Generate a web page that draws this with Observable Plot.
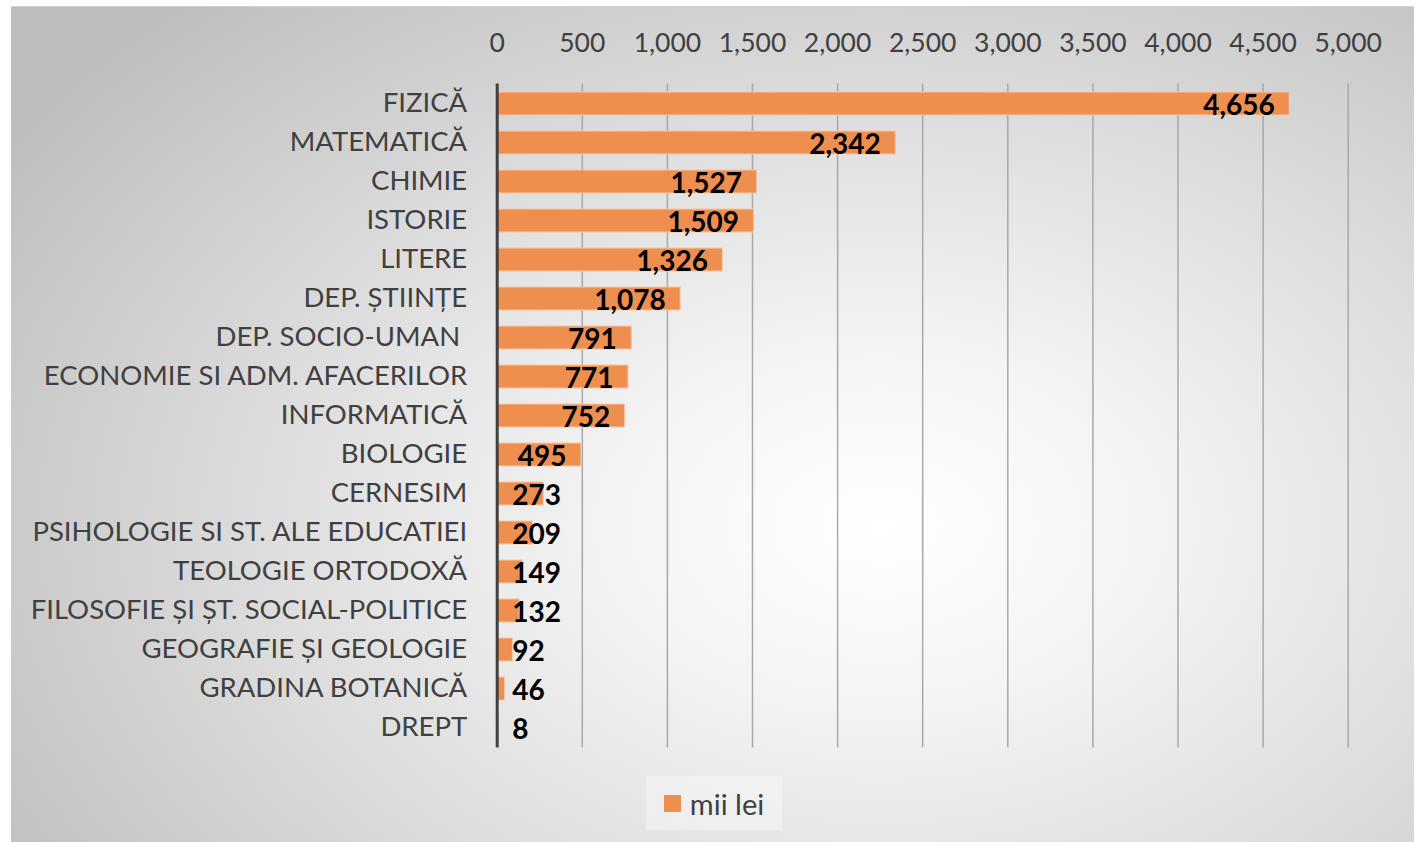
<!DOCTYPE html>
<html>
<head>
<meta charset="utf-8">
<script src="https://cdn.jsdelivr.net/npm/d3@7"></script>
<script src="https://cdn.jsdelivr.net/npm/@observablehq/plot@0.6"></script>
<style>
  html, body { margin: 0; padding: 0; background: #ffffff; }
  #frame {
    position: absolute; left: 11px; top: 6px; width: 1403px; height: 836px;
    border-top: 1px solid #d0d0d0;
    background: radial-gradient(ellipse 75% 85% at 62% 62%, #ffffff 0%, #f4f4f4 25%, #dcdcdc 60%, #bdbdbd 100%);
    overflow: hidden;
    font-family: Lato, "Open Sans", sans-serif;
  }
  #frame svg { background: transparent; overflow: visible; }
  #frame svg text { white-space: pre; }
  #legend {
    position: absolute; left: 635px; top: 769px; width: 136px; height: 54px;
    background: rgba(245,245,245,0.55);
    display: flex; align-items: center; justify-content: center;
    font-size: 29px; color: #404040;
  }
  #legend .sw { width: 17px; height: 17px; background: #ee8f4f; margin-right: 9px; }
</style>
</head>
<body>
<div id="frame"><div id="chart"></div><div id="legend"><span class="sw"></span><span>mii lei</span></div></div>
<script>
const categories = [
  "FIZICĂ", "MATEMATICĂ", "CHIMIE", "ISTORIE", "LITERE", "DEP. ȘTIINȚE",
  "DEP. SOCIO-UMAN ", "ECONOMIE SI ADM. AFACERILOR", "INFORMATICĂ", "BIOLOGIE",
  "CERNESIM", "PSIHOLOGIE SI ST. ALE EDUCATIEI", "TEOLOGIE ORTODOXĂ",
  "FILOSOFIE ȘI ȘT. SOCIAL-POLITICE", "GEOGRAFIE ȘI GEOLOGIE", "GRADINA BOTANICĂ", "DREPT"
];
const values = [4656, 2342, 1527, 1509, 1326, 1078, 791, 771, 752, 495, 273, 209, 149, 132, 92, 46, 8];
const xTicks = [0, 500, 1000, 1500, 2000, 2500, 3000, 3500, 4000, 4500, 5000];

const data = categories.map((c, i) => ({category: c, value: values[i]}));
const fmt = d3.format(",");
const barColor = "#ee8f4f";

const chart = Plot.plot({
  width: 1403,
  height: 760,
  marginLeft: 485.7,
  marginRight: 66.3,
  marginTop: 76.5,
  marginBottom: 19.5,
  style: {fontFamily: "Lato, 'Open Sans', sans-serif", background: "transparent"},
  x: {domain: [0, 5000], axis: null},
  y: {domain: categories, axis: null, paddingInner: 0.41, paddingOuter: 0.205},
  marks: [
    Plot.ruleX(xTicks.filter(t => t > 0), {stroke: "#a8a8a8", strokeWidth: 1.5}),
    Plot.axisX(xTicks, {anchor: "top", tickSize: 0, tickPadding: 32, tickFormat: fmt,
      label: null, fontSize: 26.5, fill: "#404040"}),
    Plot.barX(data, {y: "category", x: "value", fill: barColor, stroke: "#f7c7a4", strokeWidth: 1}),
    Plot.ruleX([0], {stroke: "#404040", strokeWidth: 3}),
    Plot.text(data, {x: 0, y: "category", text: "category", textAnchor: "end", dx: -30, dy: -1,
      fontSize: 27.5, fill: "#404040"}),
    Plot.text(data.filter(d => d.value >= 455), {x: "value", y: "category", text: d => fmt(d.value),
      textAnchor: "end", dx: -15, dy: 2, fontSize: 28, fontWeight: "bold", fill: "#000"}),
    Plot.text(data.filter(d => d.value < 455), {x: 0, y: "category", text: d => fmt(d.value),
      textAnchor: "start", dx: 15, dy: 2, fontSize: 28, fontWeight: "bold", fill: "#000"})
  ]
});
document.getElementById("chart").appendChild(chart);
</script>
</body>
</html>
